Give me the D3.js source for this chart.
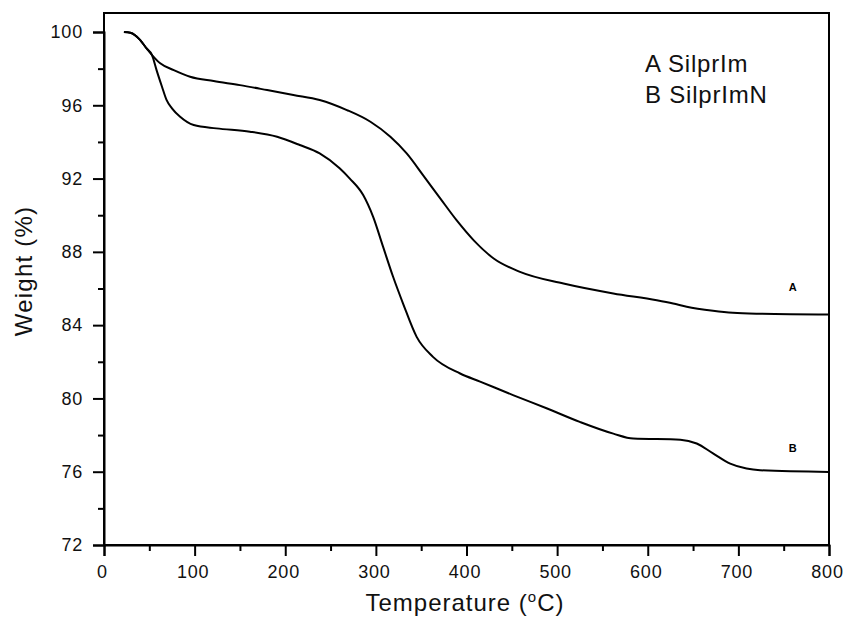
<!DOCTYPE html>
<html>
<head>
<meta charset="utf-8">
<script src="https://cdn.jsdelivr.net/npm/d3@7"></script>
<style>
  body { margin: 0; background: #fff; }
  svg { display: block; font-family: "Liberation Sans", Arial, sans-serif; }
</style>
</head>
<body>
<div id="container"></div>
<script>
// TGA curves
const tempA = [22, 29, 40, 47, 53, 62, 77, 95, 121, 150, 180, 209, 238, 268, 294, 316, 334, 352, 371, 389, 408, 430, 459, 507, 562, 610, 628, 643, 672, 694, 724, 800];
const weightA = [100, 99.96, 99.56, 99.1, 98.74, 98.29, 97.92, 97.56, 97.32, 97.1, 96.83, 96.56, 96.29, 95.74, 95.1, 94.28, 93.37, 92.19, 90.92, 89.73, 88.63, 87.64, 86.91, 86.27, 85.73, 85.36, 85.18, 85.0, 84.78, 84.67, 84.62, 84.58];

const tempB = [22, 29, 40, 47, 53, 58, 64, 69, 75, 84, 99, 124, 161, 191, 216, 238, 260, 271, 286, 297, 308, 319, 330, 345, 363, 393, 415, 452, 489, 525, 562, 584, 636, 654, 672, 691, 709, 724, 800];
const weightB = [100, 99.96, 99.56, 99.1, 98.74, 97.92, 97.01, 96.29, 95.83, 95.37, 94.92, 94.74, 94.56, 94.28, 93.83, 93.37, 92.56, 92.01, 91.1, 89.91, 88.27, 86.64, 85.18, 83.36, 82.27, 81.36, 80.92, 80.17, 79.45, 78.72, 78.08, 77.81, 77.75, 77.54, 77.0, 76.44, 76.17, 76.08, 75.99];

const xTicks = [0, 100, 200, 300, 400, 500, 600, 700, 800];
const yTicks = [72, 76, 80, 84, 88, 92, 96, 100];
const legendLines = ['A SilprIm', 'B SilprImN'];

const W = 844, H = 621;
const box = {left: 104, right: 829, top: 13, bottom: 545};

const svg = d3.select('#container').append('svg')
  .attr('width', W)
  .attr('height', H);

const x = d3.scaleLinear().domain([0, 800]).range([box.left, box.right]);
const y = d3.scaleLinear().domain([72, 100]).range([545, 32]);

// frame
svg.append('rect')
  .attr('x', box.left).attr('y', box.top)
  .attr('width', box.right - box.left).attr('height', box.bottom - box.top)
  .attr('fill', 'none').attr('stroke', '#000').attr('stroke-width', 2);

// x axis
svg.append('g')
  .attr('class', 'xaxis')
  .attr('transform', `translate(0,${box.bottom})`)
  .call(d3.axisBottom(x).tickValues(xTicks).tickFormat(d3.format('d')).tickSize(11).tickPadding(9));
svg.append('g')
  .attr('transform', `translate(0,${box.bottom})`)
  .call(d3.axisBottom(x).tickValues(d3.range(50, 800, 100)).tickFormat('').tickSize(6))
  .call(g => g.select('.domain').remove());

// y axis
svg.append('g')
  .attr('transform', `translate(${box.left},0)`)
  .call(d3.axisLeft(y).tickValues(yTicks).tickFormat(d3.format('d')).tickSize(11).tickPadding(10));
svg.append('g')
  .attr('transform', `translate(${box.left},0)`)
  .call(d3.axisLeft(y).tickValues(d3.range(74, 100, 4)).tickFormat('').tickSize(6))
  .call(g => g.select('.domain').remove());

svg.selectAll('.domain').attr('stroke-width', 2);
svg.selectAll('.tick line').attr('stroke', '#000').attr('stroke-width', 2);
svg.selectAll('.tick text')
  .attr('fill', '#111')
  .style('font-family', '"Liberation Sans", Arial, sans-serif')
  .style('font-size', '18px')
  .style('letter-spacing', '0.8px');
svg.selectAll('.xaxis .tick text').attr('dx', -2);

// curves
const line = d3.line()
  .x(d => x(d[0]))
  .y(d => y(d[1]))
  .curve(d3.curveMonotoneX);

const seriesA = tempA.map((t, i) => [t, weightA[i]]);
const seriesB = tempB.map((t, i) => [t, weightB[i]]);

[seriesA, seriesB].forEach(s => {
  svg.append('path')
    .datum(s)
    .attr('d', line)
    .attr('fill', 'none')
    .attr('stroke', '#000')
    .attr('stroke-width', 2);
});

// small curve labels
svg.append('text').attr('x', x(760)).attr('y', y(85.85)).attr('text-anchor', 'middle')
  .style('font-size', '11px').style('font-weight', 'bold').text('A');
svg.append('text').attr('x', x(760)).attr('y', y(77.1)).attr('text-anchor', 'middle')
  .style('font-size', '11px').style('font-weight', 'bold').text('B');

// legend
svg.append('g')
  .selectAll('text')
  .data(legendLines)
  .join('text')
  .attr('x', 645)
  .attr('y', (d, i) => 72 + i * 31)
  .attr('fill', '#111')
  .style('font-size', '24px')
  .style('letter-spacing', '0.8px')
  .text(d => d);

// axis titles
const xt = svg.append('text')
  .attr('x', 465).attr('y', 611)
  .attr('text-anchor', 'middle')
  .attr('fill', '#111')
  .style('font-size', '24px')
  .style('letter-spacing', '1px');
xt.append('tspan').text('Temperature (');
xt.append('tspan').attr('dy', -9).style('font-size', '15px').text('o');
xt.append('tspan').attr('dy', 9).text('C)');

svg.append('text')
  .attr('transform', 'translate(32,271) rotate(-90)')
  .attr('text-anchor', 'middle')
  .attr('fill', '#111')
  .style('font-size', '24px')
  .style('letter-spacing', '1.2px')
  .text('Weight (%)');
</script>
</body>
</html>
